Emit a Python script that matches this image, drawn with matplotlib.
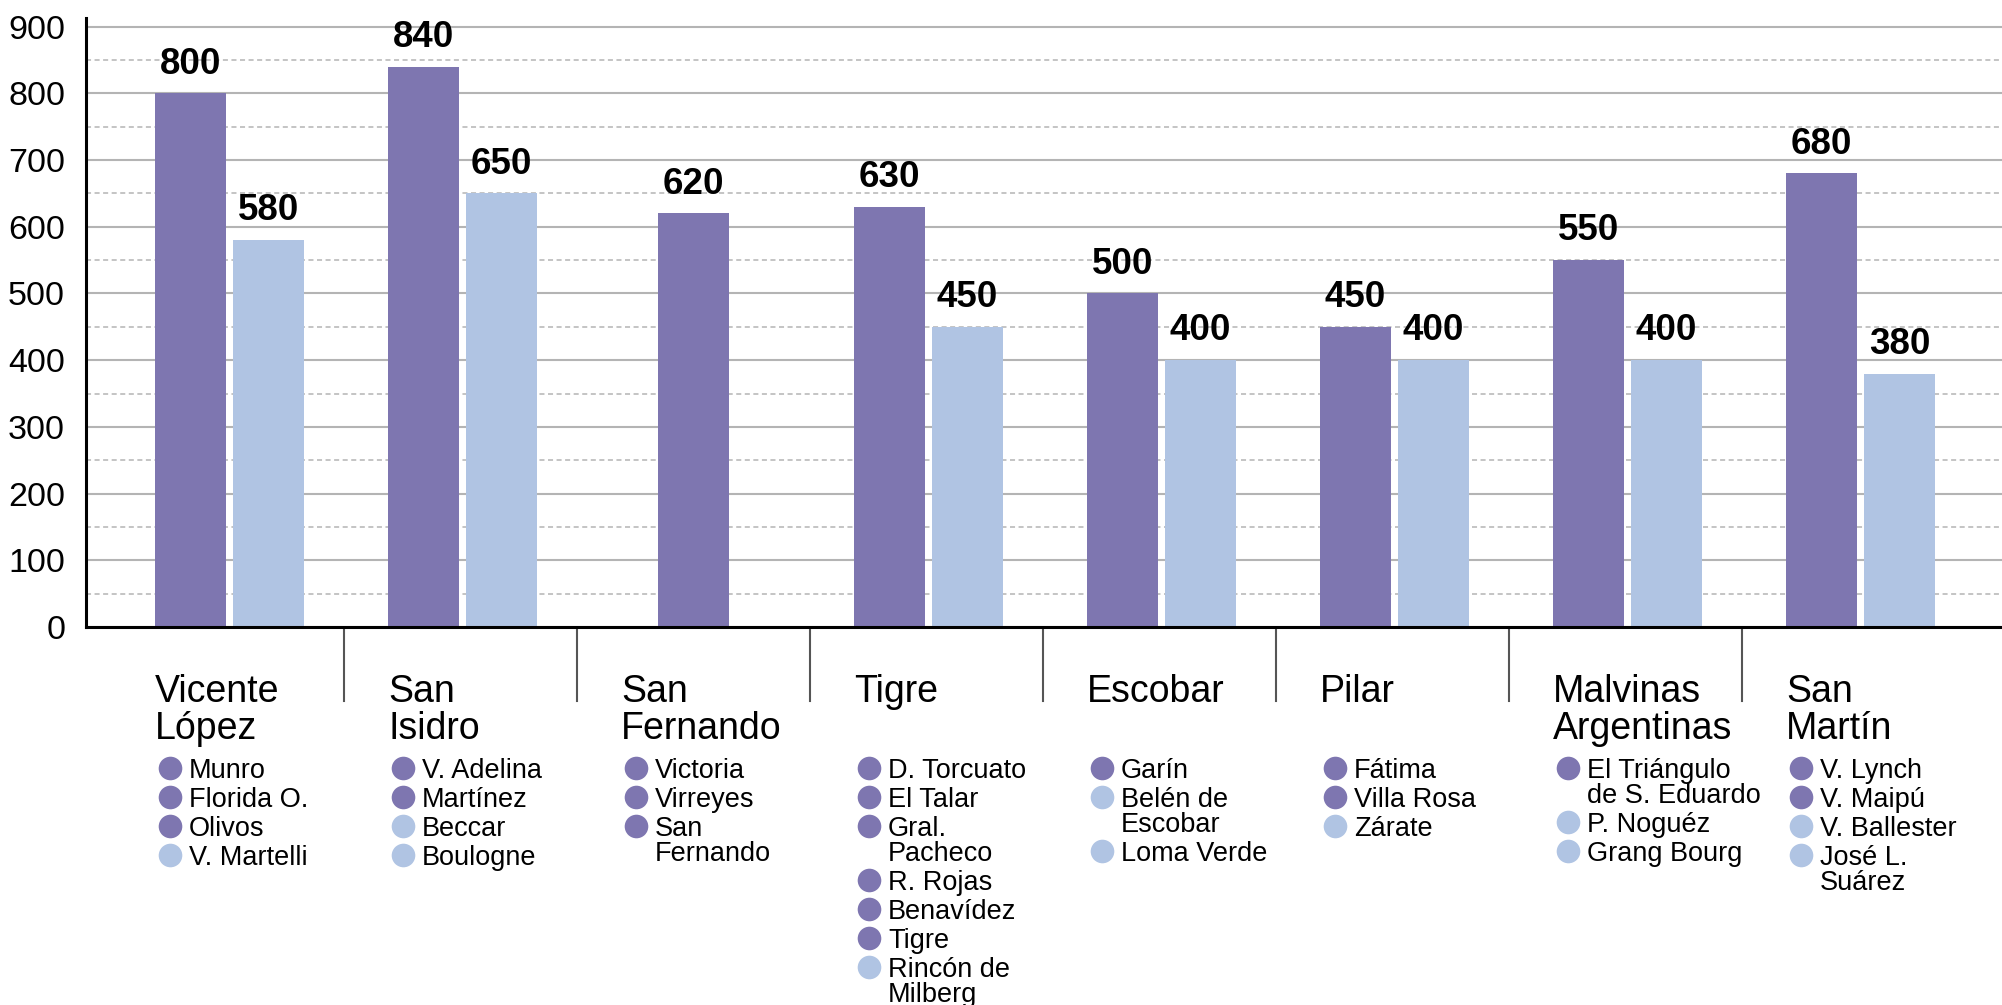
import numpy as np
import matplotlib
matplotlib.use('Agg')
import matplotlib.pyplot as plt
from matplotlib import transforms

plt.rcParams['font.family'] = ['Liberation Sans', 'DejaVu Sans']

# ==================== datos ====================
partidos = ['Vicente\nLópez', 'San\nIsidro', 'San\nFernando', 'Tigre',
            'Escobar', 'Pilar', 'Malvinas\nArgentinas', 'San\nMartín']
valor_alto = [800, 840, 620, 630, 500, 450, 550, 680]
valor_bajo = [580, 650, np.nan, 450, 400, 400, 400, 380]

barrios = [
    ['Munro', 'Florida O.', 'Olivos', 'V. Martelli'],
    ['V. Adelina', 'Martínez', 'Beccar', 'Boulogne'],
    ['Victoria', 'Virreyes', 'San\nFernando'],
    ['D. Torcuato', 'El Talar', 'Gral.\nPacheco', 'R. Rojas', 'Benavídez', 'Tigre', 'Rincón de\nMilberg'],
    ['Garín', 'Belén de\nEscobar', 'Loma Verde'],
    ['Fátima', 'Villa Rosa', 'Zárate'],
    ['El Triángulo\nde S. Eduardo', 'P. Noguéz', 'Grang Bourg'],
    ['V. Lynch', 'V. Maipú', 'V. Ballester', 'José L.\nSuárez'],
]
# 0 = grupo alto (violeta), 1 = grupo bajo (celeste)
nivel = [
    [0, 0, 0, 1],
    [0, 0, 1, 1],
    [0, 0, 0],
    [0, 0, 0, 0, 0, 0, 1],
    [0, 1, 1],
    [0, 0, 1],
    [0, 1, 1],
    [0, 0, 1, 1],
]

COLOR_ALTO = '#7E76B0'
COLOR_BAJO = '#B0C4E3'
colores = [COLOR_ALTO, COLOR_BAJO]

# ==================== figura ====================
W, H = 2002, 1005
fig = plt.figure(figsize=(W / 100, H / 100), dpi=100)
ax = fig.add_axes([86 / W, 1 - 627 / H, 1 - 86 / W, (627 - 18) / H])

x = np.arange(len(partidos))
ancho = 0.305
for i in x:
    if np.isnan(valor_bajo[i]):
        pos_alto = [i]
    else:
        pos_alto = [i - 0.159]
    b = ax.bar(pos_alto, [valor_alto[i]], width=ancho, color=COLOR_ALTO, zorder=3)
    ax.bar_label(b, labels=[f'{valor_alto[i]:.0f}'], padding=8.5,
                 fontsize=26.5, fontweight='bold', zorder=4)
    if not np.isnan(valor_bajo[i]):
        b = ax.bar([i + 0.176], [valor_bajo[i]], width=ancho, color=COLOR_BAJO, zorder=3)
        ax.bar_label(b, labels=[f'{valor_bajo[i]:.0f}'], padding=8.5,
                     fontsize=26.5, fontweight='bold', zorder=4)

ax.set_xlim(-0.607, 7.616)
ax.set_ylim(0, 913)
ax.set_yticks(np.arange(0, 901, 100))
ax.set_yticks(np.arange(50, 901, 100), minor=True)
ax.set_xticks([])
ax.tick_params(axis='y', which='both', length=0, labelsize=24.5, pad=15)

# rejilla: sólida cada 100, punteada cada 50
ax.grid(axis='y', which='major', color='#b4b4b4', lw=1.5, zorder=0)
ax.grid(axis='y', which='minor', color='#b4b4b4', lw=1.1, ls=(0, (3.3, 2.3)), zorder=0)

for lado in ['top', 'right']:
    ax.spines[lado].set_visible(False)
ax.spines['left'].set_linewidth(2.2)
ax.spines['bottom'].set_linewidth(2.2)
ax.spines['left'].set_zorder(5)
ax.spines['bottom'].set_zorder(5)

# ==================== rótulos inferiores ====================
trans = transforms.blended_transform_factory(ax.transData, fig.transFigure)


def py(px):
    return 1 - px / H


# separadores entre partidos
for i in range(len(partidos) - 1):
    ax.plot([i + 0.5, i + 0.5], [py(628), py(701)], color='#555555', lw=1.5,
            transform=trans, clip_on=False)

for i, nombre in enumerate(partidos):
    for k, linea in enumerate(nombre.split('\n')):
        ax.text(i - 0.31, py(702 + 36.5 * k), linea, transform=trans,
                fontsize=27, ha='left', va='baseline')

    y = 768
    for barrio, n in zip(barrios[i], nivel[i]):
        ax.plot([i - 0.245], [py(y)], marker='o', ms=17, color=colores[n],
                mec='none', transform=trans, clip_on=False)
        lineas = barrio.split('\n')
        for k, linea in enumerate(lineas):
            ax.text(i - 0.165, py(y + 10 + 25 * k), linea, transform=trans,
                    fontsize=19.5, ha='left', va='baseline')
        y += 29 + 25 * (len(lineas) - 1)

fig.savefig('out.png', dpi=100)
